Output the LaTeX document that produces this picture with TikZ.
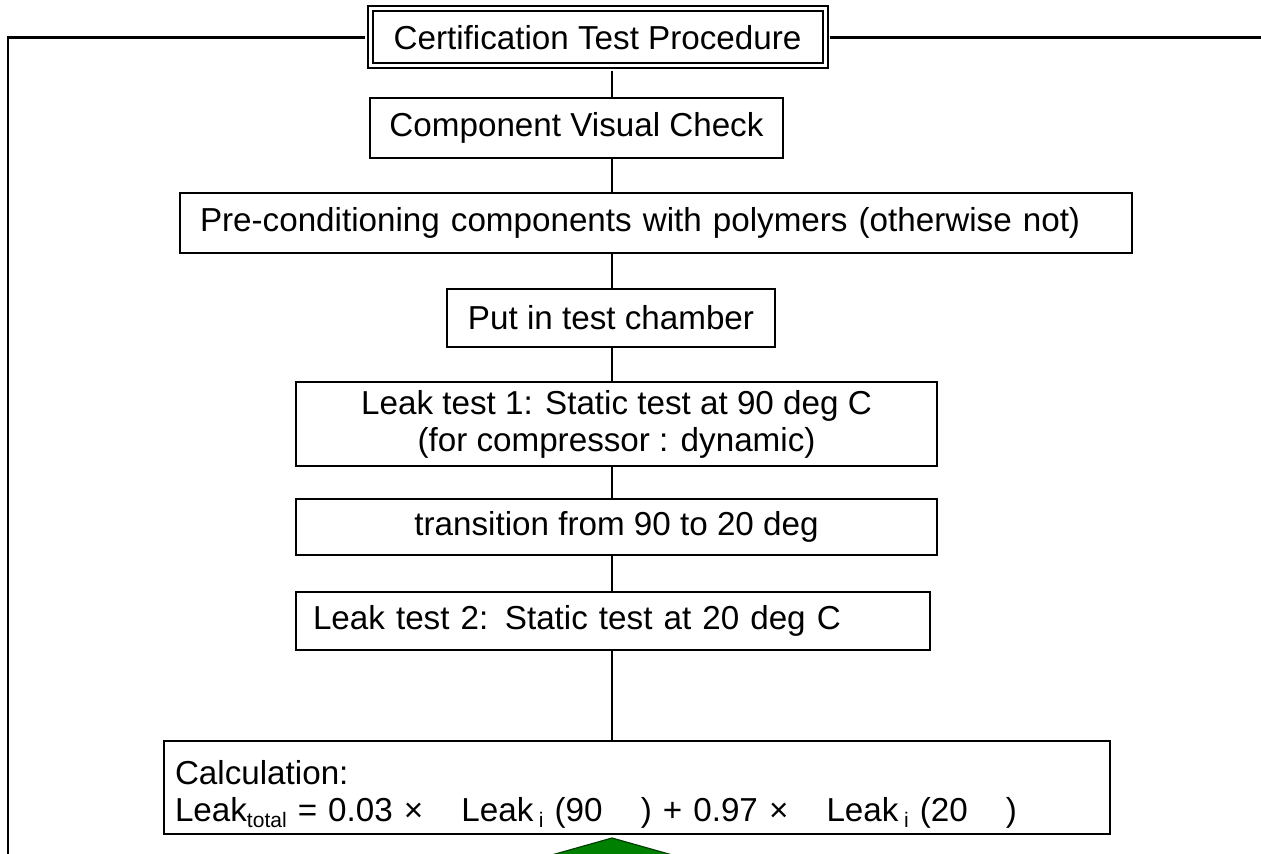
\documentclass[tikz,border=0pt]{standalone}
\usepackage{fontspec}
\setmainfont{Liberation Sans}
\usetikzlibrary{positioning}
\definecolor{arrowgreen}{RGB}{0,128,0}

\newcommand{\lowsub}[1]{\raisebox{-3pt}{\fontsize{10.5}{10.5}\selectfont #1}}

\tikzset{
  stepbox/.style={draw, inner sep=0pt, align=center, font=\fontsize{16.6}{18.5}\selectfont},
  leftbox/.style={stepbox, align=left, inner xsep=#1},
}

\begin{document}
\begin{tikzpicture}[x=0.5pt, y=-0.5pt, line width=1.1pt]
    \useasboundingbox (0,0) rectangle (1261,854);
    \clip (0,0) rectangle (1261,854);

    % procedure boxes
    \node[stepbox, double, double distance=1.5pt, line width=1pt, minimum width=227.5pt, minimum height=28.5pt] (title) at (597.5,37.5) {Certification Test Procedure};
    \node[stepbox, minimum width=206.5pt, minimum height=30pt] (visual) at (576.5,128) {Component Visual Check};
    \node[leftbox=10pt, text width=456pt, minimum height=30pt] (precond) at (656,223) {Pre-conditioning components with polymers (otherwise not)};
    \node[stepbox, minimum width=164pt, minimum height=29pt] (chamber) at (611,318) {Put in test chamber};
    \node[stepbox, minimum width=320.5pt, minimum height=42pt] (leaka) at (616.5,424) {Leak test 1: Static test at 90 deg C\\(for compressor : dynamic)};
    \node[stepbox, minimum width=320.5pt, minimum height=28pt] (trans) at (616.5,527) {transition from 90 to 20 deg};
    \node[leftbox=8.5pt, text width=300pt, minimum height=29pt] (leakb) at (613,621) {Leak test 2: Static test at 20 deg C};
    \node[leftbox=5.5pt, text width=462pt, minimum height=46.5pt] (calc) at (637,787.5) {\rule{0pt}{19pt}Calculation:\\
      Leak\lowsub{total} = 0.03 × \hspace{8pt} Leak\,\lowsub{i} (90 \hspace{8pt} ) + 0.97 × \hspace{8pt} Leak\,\lowsub{i} (20 \hspace{8pt} )};

    % connectors
    \coordinate (spine) at (612,0);
    \coordinate (leftend) at (8,870);
    \coordinate (rightend) at (1270,0);
    \draw[shorten <=1.8pt] (title.south -| spine) -- (visual.north -| spine);
    \draw (visual.south -| spine) -- (precond.north -| spine);
    \draw (precond.south -| spine) -- (chamber.north -| spine);
    \draw (chamber.south -| spine) -- (leaka.north -| spine);
    \draw (leaka.south -| spine) -- (trans.north -| spine);
    \draw (trans.south -| spine) -- (leakb.north -| spine);
    \draw (leakb.south -| spine) -- (calc.north -| spine);
    \draw[shorten >=1.8pt] (leftend) |- (title.west);
    \draw[shorten <=1.8pt] (title.east) -- (rightend |- title.east);

    % green arrow
    \filldraw[fill=arrowgreen, draw=black!50!arrowgreen, line width=0.6pt] (612,838) -- (690,860) -- (534,860) -- cycle;
\end{tikzpicture}
\end{document}
